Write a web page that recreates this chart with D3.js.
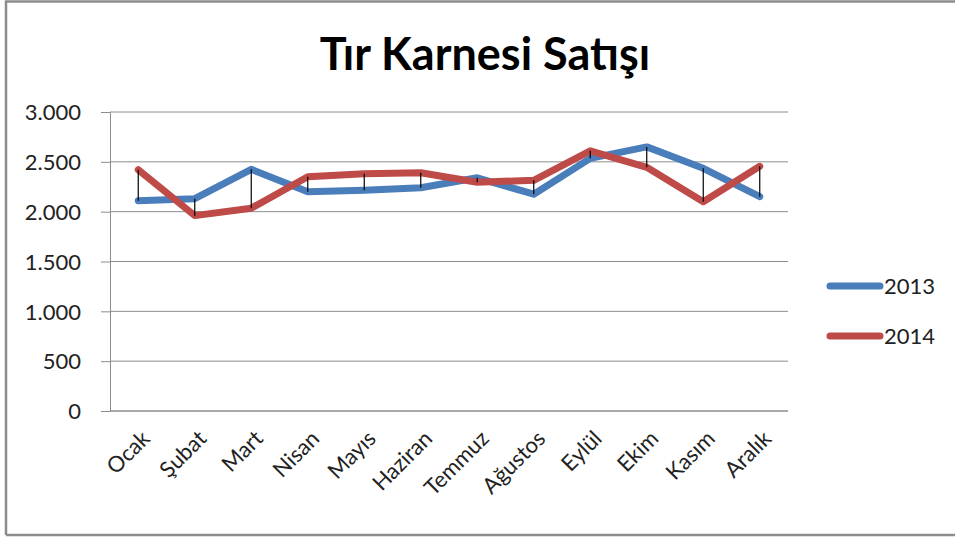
<!DOCTYPE html>
<html>
<head>
<meta charset="utf-8">
<script src="https://cdn.jsdelivr.net/npm/d3@7"></script>
<style>
  html, body { margin: 0; padding: 0; background: #fff; }
  svg { display: block; font-family: Lato, "Open Sans", sans-serif; }
</style>
</head>
<body>
<svg id="chart" width="955" height="539"></svg>
<script>
const months = ["Ocak", "Şubat", "Mart", "Nisan", "Mayıs", "Haziran", "Temmuz", "Ağustos", "Eylül", "Ekim", "Kasım", "Aralık"];
const values2013 = [2110, 2130, 2425, 2200, 2215, 2240, 2340, 2175, 2535, 2650, 2435, 2150];
const values2014 = [2420, 1960, 2035, 2350, 2380, 2390, 2295, 2315, 2610, 2445, 2100, 2455];
const yTicks = [0, 500, 1000, 1500, 2000, 2500, 3000];
const seriesNames = ["2013", "2014"];
const seriesColors = ["#4A7EBB", "#BE4B48"];
const title = "Tır Karnesi Satışı";

const FONT = "Lato, 'Open Sans', sans-serif";
const svg = d3.select("#chart");
const W = 955, H = 539;
const m = { left: 110, right: 788, top: 112, bottom: 411 };

// outer border
svg.append("path")
  .attr("d", `M6,${H - 4} V1.5 H${W}`)
  .attr("fill", "none").attr("stroke", "#8c8c8c").attr("stroke-width", 2.5);
svg.append("line")
  .attr("x1", 6).attr("x2", W).attr("y1", H - 4).attr("y2", H - 4)
  .attr("stroke", "#8c8c8c").attr("stroke-width", 2.5);

const x = d3.scaleBand().domain(months).range([m.left, m.right]);
const y = d3.scaleLinear().domain([0, 3000]).range([m.bottom, m.top]);
const fmt = v => d3.format(",")(v).replace(/,/g, ".");

// gridlines
svg.append("g").selectAll("line").data(yTicks.filter(d => d > 0)).join("line")
  .attr("x1", m.left).attr("x2", m.right)
  .attr("y1", d => y(d)).attr("y2", d => y(d))
  .attr("stroke", "#8c8c8c").attr("stroke-width", 1);

// y axis
const yAxis = svg.append("g").attr("transform", `translate(${m.left},0)`)
  .call(d3.axisLeft(y).tickValues(yTicks).tickFormat(fmt).tickSize(9).tickPadding(20));
yAxis.attr("font-family", FONT).attr("font-size", 22);
yAxis.select(".domain").attr("stroke", "#8c8c8c");
yAxis.selectAll(".tick line").attr("stroke", "#8c8c8c");
yAxis.selectAll("text").attr("fill", "#222").attr("dy", "0.35em");

// x axis
const xAxis = svg.append("g").attr("transform", `translate(0,${m.bottom})`)
  .call(d3.axisBottom(x).tickSize(0).tickPadding(0));
xAxis.attr("font-family", FONT).attr("font-size", 22);
xAxis.select(".domain").attr("stroke", "#8c8c8c").attr("stroke-width", 1.5)
  .attr("d", `M${m.left},0H${m.right}`);
xAxis.selectAll(".tick text")
  .attr("fill", "#222")
  .attr("text-anchor", "end")
  .attr("y", 0)
  .attr("dy", 0)
  .attr("transform", "translate(13,29) rotate(-45)");

const cx = d => x(d) + x.bandwidth() / 2;

// series lines
const series = [values2013, values2014];
const line = d3.line().x((d, i) => cx(months[i])).y(d => y(d));
series.forEach((vals, k) => {
  svg.append("path").datum(vals)
    .attr("d", line)
    .attr("fill", "none")
    .attr("stroke", seriesColors[k])
    .attr("stroke-width", 7)
    .attr("stroke-linejoin", "round")
    .attr("stroke-linecap", "round");
});

// high-low lines
svg.append("g").selectAll("line").data(months).join("line")
  .attr("x1", d => cx(d)).attr("x2", d => cx(d))
  .attr("y1", (d, i) => y(values2013[i])).attr("y2", (d, i) => y(values2014[i]))
  .attr("stroke", "#000").attr("stroke-width", 1.2);

// title
svg.append("text")
  .attr("x", 485).attr("y", 70)
  .attr("text-anchor", "middle")
  .attr("font-family", FONT)
  .attr("font-size", 45).attr("font-weight", "bold").attr("fill", "#000")
  .text(title);

// legend
const leg = svg.append("g");
seriesNames.forEach((name, k) => {
  const ly = 286 + k * 50;
  leg.append("line").attr("x1", 830).attr("x2", 880).attr("y1", ly).attr("y2", ly)
    .attr("stroke", seriesColors[k]).attr("stroke-width", 7).attr("stroke-linecap", "round");
  leg.append("text").attr("x", 884).attr("y", ly + 8)
    .attr("font-family", FONT)
    .attr("font-size", 22).attr("fill", "#222").text(name);
});
</script>
</body>
</html>
